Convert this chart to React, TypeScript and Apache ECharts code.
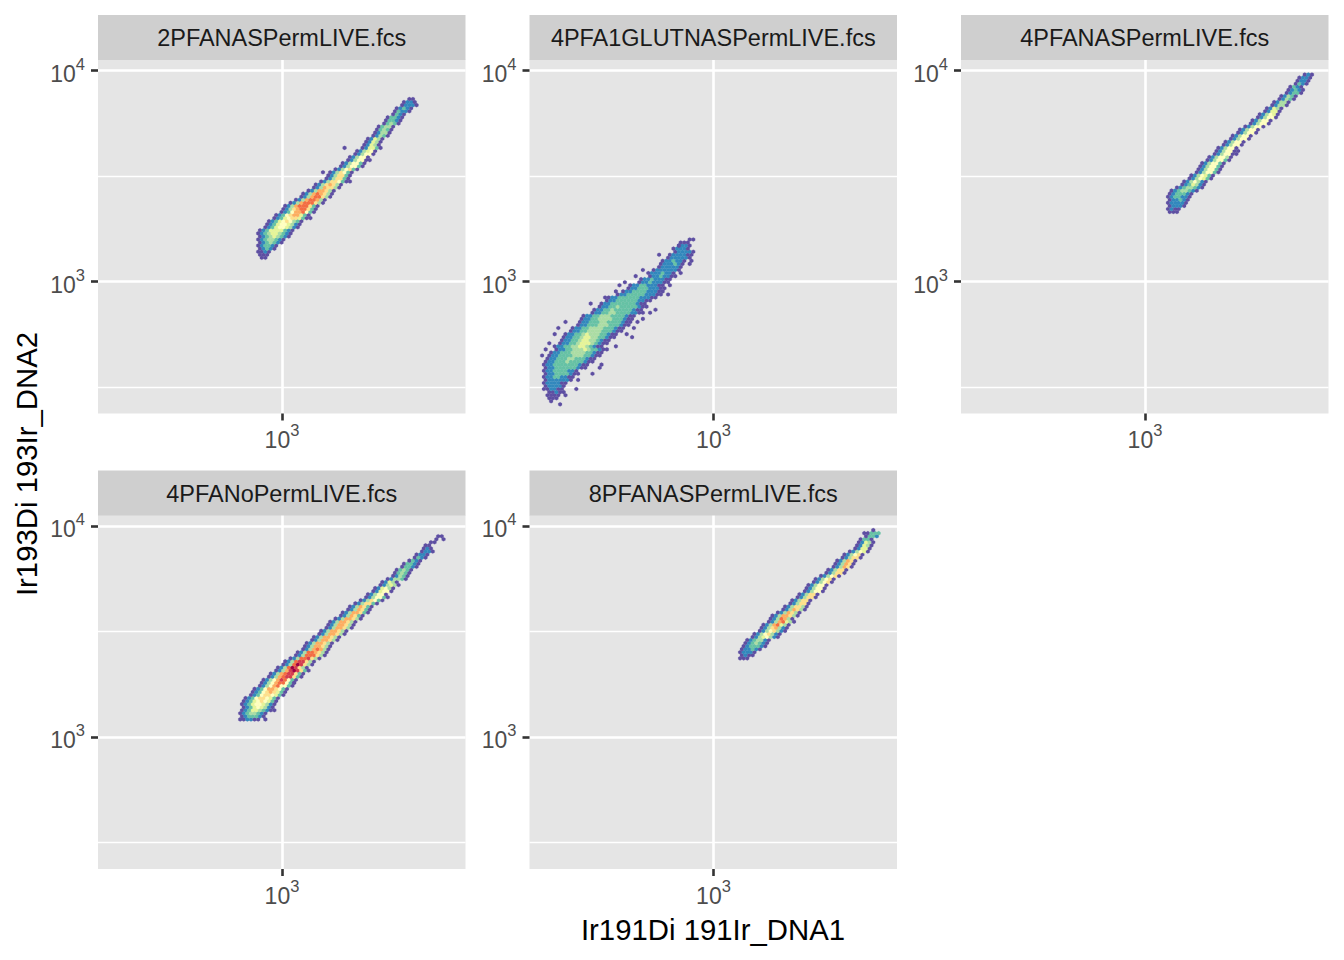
import React, { useEffect, useRef } from "react";
import * as echarts from "echarts";

const panelNames = [
  "2PFANASPermLIVE.fcs",
  "4PFA1GLUTNASPermLIVE.fcs",
  "4PFANASPermLIVE.fcs",
  "4PFANoPermLIVE.fcs",
  "8PFANASPermLIVE.fcs",
];
const xAxisTitle = "Ir191Di 191Ir_DNA1";
const yAxisTitle = "Ir193Di 193Ir_DNA2";
const xTicks = [1000];
const yTicks = [1000, 10000];
const yMinorGrid = [316.2, 3162];
const densityColors = ["#E5E5E5", "#5E4FA2", "#3288BD", "#66C2A5", "#ABDDA4", "#E6F598", "#FFFFBF", "#FEE08B", "#FDAE61", "#F46D43", "#D53E4F", "#9E0142"];

// Hexagon bins: [bin row, first bin column, density class of each bin]
type Row = [number, number, string];
const bins2PFA: Row[] = [
  [51,45,"11"],[52,45,"111"],[53,44,"1121"],[54,45,"12321"],[55,44,"123321"],[56,45,"1234321"],[57,44,"12344321"],[58,45,"123454321"],
  [59,44,"1234554321"],[60,45,"1235555321"],[61,46,"1235665421"],[62,47,"1235665421"],[63,47,"1235676431"],[64,49,"1235677531"],
  [65,49,"1236788531"],[66,51,"1236889631"],[67,51,"1247899731"],[68,52,"1248999731"],[69,53,"1248999741"],[70,55,"124899841"],
  [71,56,"124899741"],[72,57,"124898741"],[73,58,"12488741"],[74,60,"12487741"],[75,60,"12478741"],[76,62,"12477631"],[77,63,"1247731"],
  [78,64,"1247731"],[79,64,"1247631"],[80,66,"1246731"],[81,67,"1246631"],[82,68,"1246631"],[83,69,"124661"],[84,70,"124661"],[85,71,"124661"],
  [86,72,"124561"],[87,73,"125531"],[88,74,"12541"],[89,74,"12541"],[90,75,"12541"],[91,76,"12431"],[92,77,"12441"],[93,77,"13431"],
  [94,78,"13441"],[95,79,"13431"],[96,80,"13321"],[97,80,"13321"],[98,82,"1321"],[99,82,"13221"],[100,83,"12321"],[101,84,"12221"],
  [102,85,"1221"],[103,86,"11"],[87,68,"1"],[79,62,"1"],[83,75,"1"],[76,70,"1"],[64,59,"1"],
];
const bins4PFA1GLUT: Row[] = [
  [5,5,"111"],[6,5,"1111"],[7,5,"11211"],[8,4,"112211"],[9,4,"122221"],[10,4,"1222211"],[11,4,"12222221"],[12,4,"122332211"],
  [13,4,"1223333211"],[14,4,"1223333221"],[15,4,"122333333211"],[16,4,"1223333333211"],[17,4,"12233343333211"],[18,5,"12233344333211"],
  [19,5,"122333344433211"],[20,6,"122333444433211"],[21,7,"122334445433211"],[22,7,"12233445543211"],[23,8,"12233455543211"],
  [24,9,"12233455443211"],[25,9,"122334554433211"],[26,10,"122334544433211"],[27,11,"122334444333211"],[28,12,"122334444333211"],
  [29,13,"122333444333211"],[30,14,"122333443333211"],[31,14,"122334444333211"],[32,15,"122334443333211"],[33,17,"122334433332211"],
  [34,18,"12233433333211"],[35,19,"12233433333211"],[36,20,"1223333333211"],[37,21,"1223333332211"],[38,22,"12233333322211"],
  [39,24,"1223333322211"],[40,26,"122333322211"],[41,27,"12233322211"],[42,28,"1223322211"],[43,30,"122322211"],[44,31,"122322211"],
  [45,33,"12232211"],[46,33,"12223221"],[47,34,"12222221"],[48,36,"1222221"],[49,36,"1222321"],[50,37,"1223221"],[51,38,"1222221"],
  [52,39,"1222211"],[53,40,"122221"],[54,40,"12221"],[55,41,"1221"],[56,42,"111"],[57,44,"1"],
  [28,8,"1"],[23,5,"1"],[25,28,"1"],[34,35,"1"],[33,33,"1"],[31,31,"1"],[38,21,"1"],[40,24,"1"],[52,36,"1"],[45,29,"1"],
  [57,45,"1"],[55,41,"1"],[50,45,"1"],[49,44,"1"],[15,19,"1"],[8,13,"1"],[26,7,"1"],[30,10,"1"],[21,4,"1"],[19,3,"1"],
  [36,17,"1"],[43,26,"1"],[42,25,"1"],[47,31,"1"],[13,17,"1"],[11,13,"1"],[16,20,"1"],[22,24,"1"],[26,27,"1"],[28,29,"1"],[30,30,"1"],
  [39,38,"1"],[42,39,"1"],[46,42,"1"],[6,10,"1"],[4,6,"1"],[3,8,"1"],
];
const bins4PFA: Row[] = [
  [66,58,"111"],[67,57,"1211"],[68,58,"12221"],[69,57,"122221"],[70,58,"122321"],[71,57,"1233221"],[72,58,"1233321"],[73,58,"12344321"],
  [74,60,"12344321"],[75,61,"1235421"],[76,62,"1246421"],[77,63,"1246531"],[78,64,"1246531"],[79,65,"1246631"],[80,66,"1246631"],
  [81,66,"1246631"],[82,67,"1246631"],[83,68,"1246631"],[84,69,"1246641"],[85,70,"124661"],[86,71,"124661"],[87,71,"124661"],[88,73,"124661"],
  [89,73,"124661"],[90,75,"124661"],[91,75,"124661"],[92,77,"124661"],[93,77,"124661"],[94,79,"124661"],[95,80,"124661"],[96,81,"124661"],
  [97,82,"124661"],[98,83,"124651"],[99,84,"12551"],[100,85,"12541"],[101,86,"12441"],[102,87,"12441"],[103,88,"12431"],[104,89,"12431"],
  [105,90,"12331"],[106,91,"12321"],[107,91,"1321"],[108,93,"1321"],[109,93,"1221"],[110,94,"1221"],[111,95,"121"],[85,76,"1"],[86,77,"1"],
];
const bins4PFANoPerm: Row[] = [
  [49,39,"112211"],[50,40,"1233321"],[51,39,"12344321"],[52,40,"123554321"],[53,40,"123565421"],[54,40,"1235665421"],[55,40,"1235676531"],
  [56,41,"1236776531"],[57,42,"1236776531"],[58,43,"1236787531"],[59,43,"1236887631"],[60,45,"1246896631"],[61,45,"1246899631"],
  [62,46,"12468a9631"],[63,47,"12489aa731"],[64,48,"12489aa731"],[65,49,"1248aba731"],[66,50,"1249ba741"],[67,51,"1249ba741"],
  [68,52,"1249aa741"],[69,53,"12499a741"],[70,55,"124999741"],[71,55,"124998741"],[72,57,"12489841"],[73,57,"12488741"],[74,58,"12488741"],
  [75,59,"12488741"],[76,60,"12488741"],[77,61,"12488741"],[78,62,"12488741"],[79,63,"12488741"],[80,64,"12488741"],[81,64,"12488741"],
  [82,66,"12488741"],[83,67,"1248731"],[84,68,"12488731"],[85,69,"1248731"],[86,70,"1248731"],[87,71,"1247731"],[88,73,"1247631"],
  [89,74,"1246631"],[90,75,"124661"],[91,76,"125661"],[92,77,"125641"],[93,78,"124541"],[94,79,"12541"],[95,80,"124431"],[96,82,"12431"],
  [97,82,"13431"],[98,83,"13431"],[99,84,"13321"],[100,85,"13321"],[101,86,"1321"],[102,88,"1321"],[103,88,"1221"],[104,90,"1221"],
  [105,90,"121"],[106,91,"11"],[107,92,"11"],[108,94,"1"],[108,96,"1"],[109,94,"1"],[109,95,"1"],[52,49,"1"],[49,46,"1"],[61,54,"1"],
];
const bins8PFA: Row[] = [
  [69,58,"111"],[70,59,"1211"],[71,58,"12221"],[72,59,"122321"],[73,59,"1233321"],[74,60,"1234321"],[75,60,"1234421"],[76,62,"12456421"],
  [77,62,"12467421"],[78,64,"12467421"],[79,64,"12478421"],[80,65,"12489541"],[81,66,"12489541"],[82,67,"1249841"],[83,67,"12488741"],
  [84,69,"1248741"],[85,70,"1248741"],[86,71,"1247741"],[87,72,"124771"],[88,73,"124771"],[89,74,"124771"],[90,75,"124771"],[91,76,"124661"],
  [92,77,"124661"],[93,77,"124661"],[94,79,"124671"],[95,79,"124671"],[96,81,"124671"],[97,82,"124771"],[98,83,"124771"],[99,84,"124871"],
  [100,85,"124871"],[101,85,"124871"],[102,87,"124771"],[103,87,"124671"],[104,89,"124651"],[105,90,"12551"],[106,91,"12541"],[107,91,"12541"],
  [108,92,"1331"],[109,93,"1332"],[110,93,"11333"],[111,95,"1"],
];
const panelBins = [bins2PFA, bins4PFA1GLUT, bins4PFA, bins4PFANoPerm, bins8PFA];

// Hexagon bin grid on the log10 scale of the two channels
const X_LOG_MIN = 2.156;
const X_LOG_MAX = 3.842;
const Y_LOG_MIN = 2.375;
const Y_LOG_MAX = 4.051;
const X_BIN_LOG = 0.016514;
const Y_BIN_LOG = 0.014455;

function binsToData(rows: Row[]) {
  const out: number[][] = [];
  for (const [row, col, digits] of rows) {
    const offset = row % 2 ? 0.5 : 0;
    digits.split("").forEach((ch, i) => {
      out.push([
        Math.pow(10, X_LOG_MIN + (col + i + offset) * X_BIN_LOG),
        Math.pow(10, Y_LOG_MIN + row * Y_BIN_LOG),
        parseInt(ch, 12),
      ]);
    });
  }
  return out;
}

const PANEL_W = 367.5;
const PANEL_H = 354;
const LEFTS = [98, 529.5, 961, 98, 529.5];
const TOPS = [59.5, 59.5, 59.5, 515, 515];
const STRIP_H = 45;
const HEX_W = 1.85;
const HEX_H = 2.05;

function renderHex(_: any, api: any) {
  const [x, y] = api.coord([api.value(0), api.value(1)]);
  const c = densityColors[api.value(2)];
  return {
    type: "polygon",
    shape: {
      points: [
        [x, y - HEX_H], [x + HEX_W, y - HEX_H / 2], [x + HEX_W, y + HEX_H / 2],
        [x, y + HEX_H], [x - HEX_W, y + HEX_H / 2], [x - HEX_W, y - HEX_H / 2],
      ],
    },
    style: { fill: c, stroke: c, lineWidth: 0.2 },
  };
}

const labelRich = {
  b: { fontSize: 23, color: "#4D4D4D", fontFamily: "Liberation Sans", lineHeight: 30, verticalAlign: "bottom" },
  s: { fontSize: 16.5, color: "#4D4D4D", fontFamily: "Liberation Sans", lineHeight: 30, verticalAlign: "top" },
};
const fmtPow = (v: number) => `{b|10}{s|${Math.round(Math.log10(v))}}`;

function buildOption() {
  const grid = panelNames.map((_, i) => ({
    left: LEFTS[i], top: TOPS[i], width: PANEL_W, height: PANEL_H,
    show: true, backgroundColor: "#E5E5E5", borderWidth: 0, containLabel: false,
  }));
  const axisCommon = {
    type: "log" as const, logBase: 10,
    axisLine: { show: false },
    splitLine: { show: true, lineStyle: { color: "#FFFFFF", width: 2.6 } },
    minorTick: { show: false }, minorSplitLine: { show: false },
  };
  const xAxis = panelNames.map((_, i) => ({
    ...axisCommon, gridIndex: i, position: "bottom",
    min: Math.pow(10, X_LOG_MIN), max: Math.pow(10, X_LOG_MAX),
    axisTick: { show: true, length: 7, customValues: xTicks, lineStyle: { color: "#333333", width: 2.6 } },
    axisLabel: { show: true, customValues: xTicks, margin: 8, formatter: fmtPow, rich: labelRich, hideOverlap: false },
  }));
  const yAxis = panelNames.map((_, i) => ({
    ...axisCommon, gridIndex: i, position: "left",
    min: Math.pow(10, Y_LOG_MIN), max: Math.pow(10, Y_LOG_MAX),
    axisTick: { show: true, length: 7, customValues: yTicks, lineStyle: { color: "#333333", width: 2.6 } },
    axisLabel: { show: true, customValues: yTicks, margin: 13, formatter: fmtPow, rich: labelRich, hideOverlap: false },
  }));
  const series = panelBins.map((rows, i) => ({
    type: "custom", xAxisIndex: i, yAxisIndex: i, z: 3, silent: true, clip: false,
    renderItem: renderHex, data: binsToData(rows), progressive: 0,
    encode: { x: 0, y: 1 },
    markLine: {
      silent: true, symbol: "none", z: 1, animation: false, label: { show: false },
      lineStyle: { color: "#FFFFFF", width: 1.3, type: "solid" },
      data: yMinorGrid.map((v) => ({ yAxis: v })),
    },
  }));
  const graphic: any[] = [];
  panelNames.forEach((name, i) => {
    graphic.push({ type: "rect", z: 1, left: LEFTS[i], top: TOPS[i] - STRIP_H + 0.5, shape: { width: PANEL_W, height: STRIP_H }, style: { fill: "#CFCFCF" } });
    graphic.push({
      type: "text", z: 2, x: LEFTS[i] + PANEL_W / 2, y: TOPS[i] - STRIP_H / 2 + (i > 2 ? 1.5 : 0.5),
      style: { text: name, fill: "#1A1A1A", fontSize: 23.47, fontFamily: "Liberation Sans", textAlign: "center", textVerticalAlign: "middle" },
    });
  });
  graphic.push({
    type: "text", x: 713, y: 929.5,
    style: { text: xAxisTitle, fill: "#000000", fontSize: 29.33, fontFamily: "Liberation Sans", textAlign: "center", textVerticalAlign: "middle" },
  });
  graphic.push({
    type: "text", x: 26, y: 464, rotation: Math.PI / 2,
    style: { text: yAxisTitle, fill: "#000000", fontSize: 29.33, fontFamily: "Liberation Sans", textAlign: "center", textVerticalAlign: "middle" },
  });
  return { animation: false, backgroundColor: "#FFFFFF", grid, xAxis, yAxis, series, graphic };
}

export default function App() {
  const ref = useRef<HTMLDivElement>(null);
  useEffect(() => {
    const chart = echarts.init(ref.current!, undefined, { renderer: "svg" });
    chart.setOption(buildOption() as any);
    return () => chart.dispose();
  }, []);
  return <div ref={ref} style={{ position: "absolute", left: 0, top: 0, width: 1344, height: 960 }} />;
}
